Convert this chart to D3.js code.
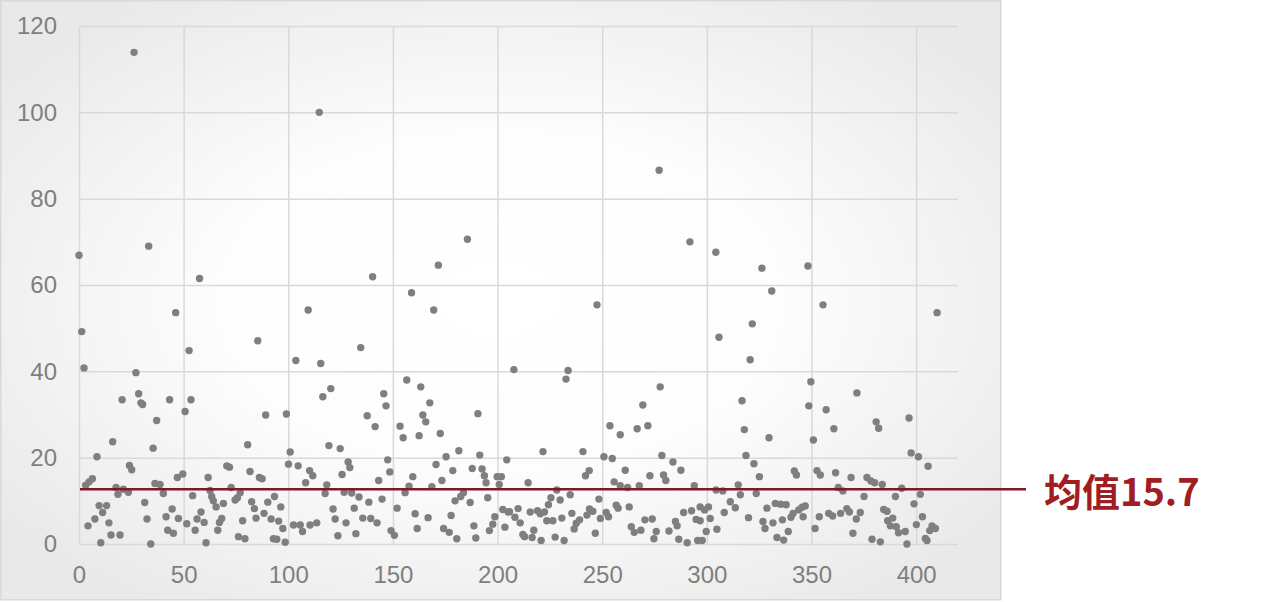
<!DOCTYPE html>
<html><head><meta charset="utf-8">
<script src="https://cdn.jsdelivr.net/npm/d3@7"></script>
<style>
html,body{margin:0;padding:0;background:#fff;}
svg{display:block;}
</style></head>
<body>
<svg id="chart" width="1266" height="602"></svg>
<script>
// ---- data ----
const xValues = [
0,26.3,33.3,57.6,114.8,140.3,158.9,171.7,185.6,277.2,291.9,304.3,326.3,331,348.3,
46.2,1.3,2.4,27.2,20.6,28.5,29.6,30.4,43.3,37.1,16.1,35.4,8.6,24.1,25.2,6.4,4.8,3.2,17.7,21.2,23.6,18.6,36.3,38.7,40.3,47,31.4,9.6,13.2,11.3,7.6,4.3,14.3,15.3,19.6,10.4,34.3,32.5,41.6,44.5,42.4,45.1,47.5,
85.4,52.6,53.5,50.7,89.2,99.1,80.6,100.9,100.1,70.6,71.9,81.7,86.2,87.5,61.7,49.6,72.7,62.6,77.0,74.6,75.7,63.4,64.2,65.5,69.0,82.5,83.8,90.2,93.4,96.4,88.4,84.6,91.8,95.4,97.4,98.5,92.9,94.5,78.2,76.2,79.3,58.3,54.3,51.5,55.5,56.4,59.8,60.7,68.2,67.1,66.3,
109.5,134.6,103.6,115.5,120.3,116.5,145.6,146.7,137.7,141.5,153.4,154.9,119.4,124.8,104.7,110.2,111.7,108.3,118.4,117.6,125.7,128.6,129.4,126.7,130.3,133.8,121.4,131.5,138.5,144.8,143.2,148.5,147.5,122.4,127.6,135.6,139.4,142.4,123.7,132.3,149.1,150.7,152,102.5,105.7,106.8,110.4,113.6,
169.5,156.6,163.3,167.6,164.3,165.7,162.5,172.6,190.6,175.4,181.5,170.6,178.6,191.5,187.9,192.6,193.7,194.5,204.4,199.8,201.8,200.8,159.5,157.7,155.8,168.6,173.4,183.7,182.4,179.7,186.9,195.3,160.6,166.8,177.8,161.6,174.2,176.9,180.5,188.7,189.6,198.7,197.7,196.1,202.5,205.1,203.5,
247.5,207.8,233.7,232.7,253.7,258.6,221.7,240.8,250.8,254.8,243.8,242.0,255.7,214.6,228.3,229.9,225.5,224.3,234.7,248.4,256.7,209.8,205.7,208.3,210.8,215.6,219.1,220.4,222.4,223.5,226.4,230.7,235.5,239.2,236.6,237.6,243.9,245.5,242.7,251.9,253.0,249.1,212.1,212.9,216.5,217.3,220.8,227.5,231.8,246.7,
305.8,277.7,269.4,266.7,271.8,278.5,283.8,287.6,261,272.8,279.3,280.4,258.6,262.1,267.7,294,304.4,307.6,311.2,257.6,262.9,263.9,265.3,268.5,270.4,273.9,275.8,274.7,281.9,285.0,285.8,288.9,292.7,294.9,296.8,296.8,298.9,300.8,301.6,299.7,304.8,308.3,286.6,290.6,295.6,297.8,
355.5,321.7,320.7,349.7,316.8,348.7,357.0,317.9,329.7,360.7,350.9,318.7,322.5,325.1,341.8,342.8,352.6,354.2,361.5,315.0,316.0,323.6,313.6,328.7,332.7,335.3,337.9,343.9,345.5,347.0,319.9,326.8,327.8,331.6,336.1,340.2,341.2,346.0,353.7,358.2,360.1,351.7,338.9,333.5,336.7,
410.0,371.7,396.6,380.9,382.1,397.6,401.1,405.7,368.9,376.5,378.4,380.2,383.8,393.1,362.8,365.0,402.0,390.1,375.1,399.0,366.9,368.1,373.3,371.4,384.5,386.1,363.9,388.8,386.4,387.7,390.5,391.6,394.8,400.1,403.0,407.6,409.2,406.5,404.4,405.2,369.8,378.9,382.9,395.6
];
const yValues = [
66.9,113.9,69.0,61.5,100,61.9,58.2,64.6,70.6,86.6,70.0,67.6,63.9,58.6,64.4,
53.6,49.2,40.8,39.7,33.4,34.8,32.7,32.3,33.4,28.6,23.7,22.2,20.2,18.2,17.2,15.1,14.4,13.6,13.1,12.7,12.0,11.5,14.0,13.8,11.7,15.4,9.6,8.9,8.9,7.3,5.8,4.2,4.9,2.1,2.1,0.3,0,5.8,6.3,8.1,3.2,2.5,5.9,
47.1,44.8,33.4,30.7,29.9,30.1,23.0,21.3,18.5,18.1,17.8,16.8,15.4,15.1,15.4,16.2,13.1,12.4,11.9,10.2,10.7,11.0,10.0,8.6,9.4,9.8,8.2,9.7,11.0,8.6,7.1,6.0,5.8,5.3,3.6,0.4,1.2,1.1,5.4,1.7,1.2,7.4,11.2,4.7,3.2,5.8,5.0,0.3,5.9,5.0,3.2,
54.2,45.5,42.5,41.8,36.0,34.1,34.8,32.0,29.7,27.2,27.3,24.6,22.8,22.1,18.1,17.0,15.8,14.2,13.7,11.7,16.1,19.0,17.7,12.0,11.8,10.9,8.1,8.3,9.7,10.4,14.7,16.7,19.5,5.8,4.9,6.0,5.9,4.9,1.9,2.4,3.1,2.0,8.3,4.4,4.4,2.9,4.4,4.9,
54.2,38.0,36.4,32.7,29.9,28.3,25.1,25.6,30.2,20.2,21.6,18.4,17.0,20.6,17.5,17.4,15.8,14.2,19.5,15.6,15.6,13.8,15.6,13.4,11.9,13.3,14.7,11.9,11.0,10.0,9.6,10.7,7.0,6.1,6.6,3.6,3.6,2.7,1.2,4.2,1.4,6.3,4.6,3.1,8.0,7.4,3.9,
55.4,40.4,40.2,38.2,27.4,25.3,21.4,21.4,20.2,19.8,17.0,15.8,14.4,14.2,12.5,10.2,10.7,9.1,11.4,10.4,9.0,8.2,7.5,6.2,4.9,7.4,7.7,7.0,7.4,5.4,5.4,6.0,7.1,5.6,3.5,4.8,8.1,7.6,6.7,7.3,6.3,5.9,2.2,1.7,1.5,3.2,0.8,1.6,0.8,2.5,
47.9,36.4,32.2,26.7,27.4,20.5,19.0,17.1,17.1,15.8,16.0,14.7,13.5,13.1,13.5,13.5,12.5,12.3,9.8,8.3,8.6,4.0,2.7,3.2,5.6,5.8,2.9,1.2,3.0,5.2,4.2,7.3,7.7,5.7,5.4,8.6,7.9,8.6,5.9,2.9,3.4,7.3,1.1,0.3,0.8,0.8,
55.4,51.0,42.7,37.6,33.2,32.0,31.1,26.5,24.6,26.7,24.1,20.5,18.6,15.6,16.9,16.0,17.0,16.0,16.5,13.7,11.4,11.7,8.4,8.3,9.4,9.2,9.1,7.9,8.5,8.8,6.1,5.2,3.6,4.9,5.6,6.2,7.1,6.3,6.3,7.1,6.5,3.6,2.9,1.5,0.9,
53.6,35.0,29.2,28.3,26.8,21.1,20.2,18.0,15.4,15.4,14.6,14.2,13.8,12.9,13.1,12.3,11.5,11.0,11.0,9.3,8.2,7.4,7.3,5.8,8.0,7.6,7.1,6.0,5.4,4.2,4.0,2.6,2.9,4.5,6.3,4.2,3.6,3.1,1.3,0.8,2.5,1.1,0.5,0
];
const xTicks = [0, 50, 100, 150, 200, 250, 300, 350, 400];
const yTicks = [0, 20, 40, 60, 80, 100, 120];
const meanLineValue = 12.7;
const meanLabel = "均值15.7";

// ---- layout ----
const svg = d3.select("#chart");
const plotL = 79, plotR = 958, plotT = 26, plotB = 544;
const x = d3.scaleLinear().domain([0, 420]).range([plotL, plotR]);
const y = d3.scaleLinear().domain([0, 120]).range([plotB, plotT]);

const defs = svg.append("defs");
const grad = defs.append("radialGradient").attr("id", "bg")
  .attr("cx", "50%").attr("cy", "50%").attr("r", "62%");
grad.append("stop").attr("offset", "0%").attr("stop-color", "#ffffff");
grad.append("stop").attr("offset", "45%").attr("stop-color", "#fdfdfd");
grad.append("stop").attr("offset", "100%").attr("stop-color", "#e9e9e9");

svg.append("rect").attr("x", 0.75).attr("y", 0.75).attr("width", 1000).attr("height", 599)
  .attr("fill", "url(#bg)").attr("stroke", "#d9d9d9").attr("stroke-width", 1.5);

// gridlines + axes
const yAxis = d3.axisLeft(y).tickValues(yTicks).tickSize(-(plotR - plotL)).tickPadding(22);
const gy = svg.append("g").attr("transform", `translate(${plotL},0)`).call(yAxis);
gy.select(".domain").remove();
gy.selectAll("line").attr("stroke", "#d9d9d9").attr("stroke-width", 1.5);
gy.selectAll("text").attr("fill", "#7f7f7f").style("font-family", "'Liberation Sans', Arial, sans-serif").style("font-size", "24px");

const xAxis = d3.axisBottom(x).tickValues(xTicks).tickSize(-(plotB - plotT)).tickPadding(22);
const gx = svg.append("g").attr("transform", `translate(0,${plotB})`).call(xAxis);
gx.select(".domain").remove();
gx.selectAll("line").attr("stroke", "#d9d9d9").attr("stroke-width", 1.5);
gx.selectAll("text").attr("fill", "#7f7f7f").style("font-family", "'Liberation Sans', Arial, sans-serif").style("font-size", "24px");

// points
svg.append("g").selectAll("circle")
  .data(xValues.map((v, i) => [v, yValues[i]]))
  .join("circle")
  .attr("cx", d => x(d[0]))
  .attr("cy", d => y(d[1]))
  .attr("r", 3.7)
  .attr("fill", "#7f7f7f");

// mean line
svg.append("line")
  .attr("x1", x(0) + 1).attr("x2", 1026)
  .attr("y1", y(meanLineValue)).attr("y2", y(meanLineValue))
  .attr("stroke", "#7d1a2a").attr("stroke-width", 2.6);

svg.append("text")
  .attr("x", 1044).attr("y", y(meanLineValue))
  .attr("dominant-baseline", "central")
  .attr("fill", "#a01d22")
  .style("font-family", "'Noto Sans CJK SC', sans-serif")
  .style("font-weight", "bold")
  .style("font-size", "38px")
  .text(meanLabel);
</script>
</body></html>
